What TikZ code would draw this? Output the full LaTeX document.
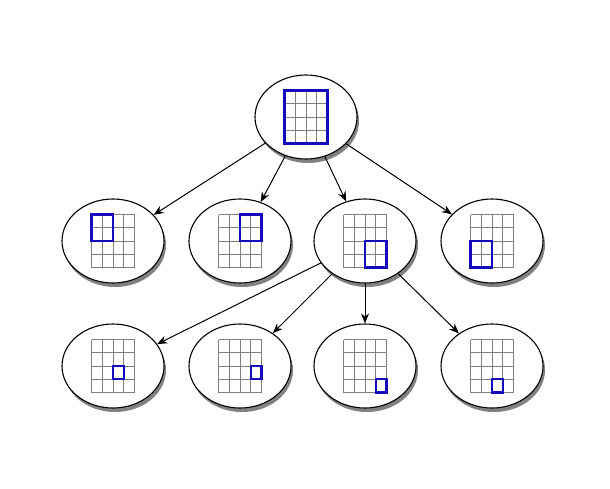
\documentclass[tikz,border=0pt]{standalone}
\usetikzlibrary{shapes.geometric,shadows,arrows.meta}
\definecolor{hblue}{RGB}{20,10,190}
\tikzset{
  st/.style={ellipse,draw=black,line width=1.1pt,fill=white,minimum width=102pt,minimum height=84pt,inner sep=0,
    drop shadow={shadow xshift=2pt,shadow yshift=-4pt,opacity=0.7,fill=black!70}},
  edge/.style={-{Stealth[length=10pt,width=8pt]},line width=1pt},
  gridl/.style={draw=gray,line width=0.9pt},
  hl/.style={draw=hblue,line width=2.2pt}
}
\newcommand{\cellgrid}[5]{%
  \begin{scope}[shift={(#1.center)}]
    \draw[gridl] (-21.5pt,-26.5pt) grid[xstep=10.75pt,ystep=13.25pt] (21.5pt,26.5pt);
    \draw[hl] (-21.5pt+#2*10.75pt,26.5pt-#3*13.25pt) rectangle (-21.5pt+#4*10.75pt,26.5pt-#5*13.25pt);
  \end{scope}}
\begin{document}
\begin{tikzpicture}[x=1pt,y=-1pt]
\useasboundingbox (0,0) rectangle (610,488);
\node[st] (r) at (306,117) {};
\node[st] (a) at (113,241) {};
\node[st] (b) at (240,241) {};
\node[st] (c) at (365,241) {};
\node[st] (d) at (492,241) {};
\node[st] (e) at (113,366) {};
\node[st] (f) at (240,366) {};
\node[st] (g) at (365,366) {};
\node[st] (h) at (492,366) {};
\cellgrid{r}{0}{0}{4}{4}
\cellgrid{a}{0}{0}{2}{2}
\cellgrid{b}{2}{0}{4}{2}
\cellgrid{c}{2}{2}{4}{4}
\cellgrid{d}{0}{2}{2}{4}
\cellgrid{e}{2}{2}{3}{3}
\cellgrid{f}{3}{2}{4}{3}
\cellgrid{g}{3}{3}{4}{4}
\cellgrid{h}{2}{3}{3}{4}
\draw[edge] (r) -- (a);
\draw[edge] (r) -- (b);
\draw[edge] (r) -- (c);
\draw[edge] (r) -- (d);
\draw[edge] (c) -- (e);
\draw[edge] (c) -- (f);
\draw[edge] (c) -- (g);
\draw[edge] (c) -- (h);
\end{tikzpicture}
\end{document}
